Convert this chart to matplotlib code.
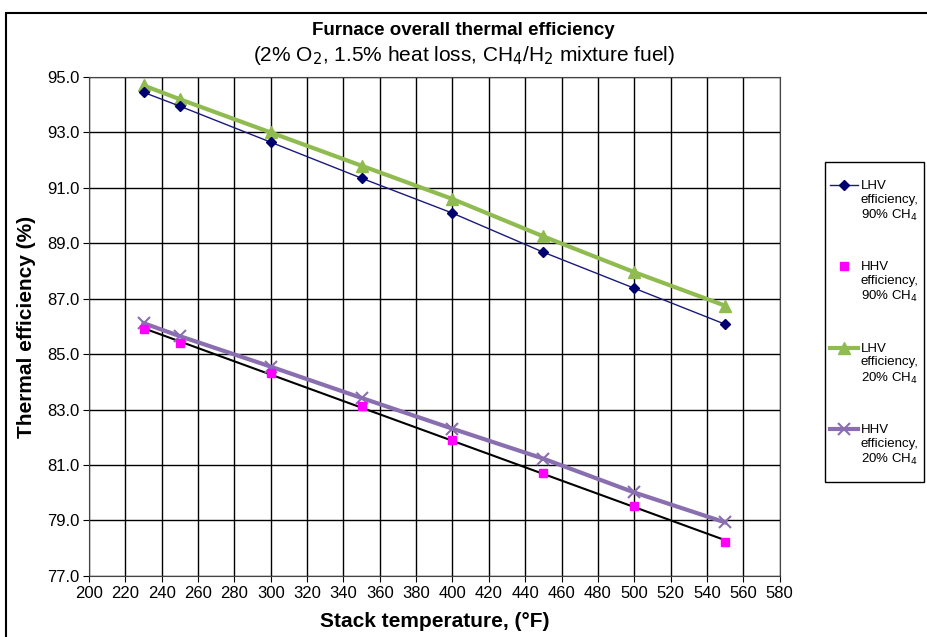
import numpy as np
import matplotlib
matplotlib.use("Agg")
import matplotlib.pyplot as plt
from matplotlib.patches import Rectangle
from matplotlib.legend_handler import HandlerLine2D

plt.rcParams['font.family'] = ['Liberation Sans', 'DejaVu Sans']

# stack temperature, deg F
temps = [230, 250, 300, 350, 400, 450, 500, 550]

# thermal efficiency, %
lhv_90 = [94.45, 93.95, 92.65, 91.35, 90.09, 88.68, 87.38, 86.08]
hhv_90 = [85.9, 85.4, 84.31, 83.12, 81.9, 80.7, 79.51, 78.21]
lhv_20 = [94.7, 94.2, 93.0, 91.8, 90.6, 89.25, 87.96, 86.75]
hhv_20 = [86.12, 85.65, 84.55, 83.42, 82.31, 81.23, 80.01, 78.93]

labels = ["LHV\nefficiency,\n90% CH$_4$", "HHV\nefficiency,\n90% CH$_4$",
          "LHV\nefficiency,\n20% CH$_4$", "HHV\nefficiency,\n20% CH$_4$"]


class TopLineHandler(HandlerLine2D):
    # put the legend handle next to the first text line, not the middle one
    def create_artists(self, legend, orig_handle, xdescent, ydescent,
                       width, height, fontsize, trans):
        shift = 1.25 * fontsize
        return super().create_artists(legend, orig_handle, xdescent,
                                      ydescent - 2 * shift, width, height,
                                      fontsize, trans)


fig = plt.figure(figsize=(9.27, 6.37), dpi=100)
ax = fig.add_axes([0.096, 0.096, 0.745, 0.783])

# frame around the whole picture
fig.patches.append(Rectangle((0.006, -0.01), 1.2, 0.99, transform=fig.transFigure,
                             fill=False, edgecolor='black', linewidth=1.5))
# legend box (drawn separately: tall padding on top/bottom, small at the sides)
fig.patches.append(Rectangle((0.89, 0.2433), 0.107, 0.5024, transform=fig.transFigure,
                             fill=True, facecolor='white', edgecolor='black',
                             linewidth=1))

ax.plot(temps, lhv_90, color='#1a1a7a', lw=1, marker='D', ms=5,
        mfc='#00006e', mec='#00006e', label=labels[0], zorder=4)

# linear trendline for the HHV 90% series (not in the legend)
k, b = np.polyfit(temps, hhv_90, 1)
tt = np.array([temps[0], temps[-1]])
ax.plot(tt, k * tt + b, color='black', lw=1.5, zorder=3)
ax.plot(temps, hhv_90, ls='none', marker='s', ms=6, color='#ff00ff',
        label=labels[1], zorder=5)

ax.plot(temps, lhv_20, color='#90bb50', lw=3, marker='^', ms=8,
        mfc='#90bb50', mec='#90bb50', label=labels[2], zorder=3)
ax.plot(temps, hhv_20, color='#8a6fb0', lw=3, marker='x', ms=8, mew=1.5,
        mec='#8a6fb0', label=labels[3], zorder=3)

ax.set_xlim(200, 580)
ax.set_ylim(77, 95)
ax.set_xticks(np.arange(200, 581, 20))
ax.set_yticks(np.arange(77, 95.1, 2))
ax.set_yticklabels([f"{v:.1f}" for v in np.arange(77, 95.1, 2)])
ax.grid(color='black', lw=1)
ax.set_axisbelow(True)
for s in ax.spines.values():
    s.set_color('#444444')
ax.tick_params(labelsize=12, length=4, direction='out', pad=3)

ax.set_xlabel("Stack temperature, (°F)", fontsize=15, fontweight='bold', labelpad=8)
ax.set_ylabel("Thermal efficiency (%)", fontsize=15, fontweight='bold', labelpad=8)

fig.text(0.5, 0.945, "Furnace overall thermal efficiency", ha='center',
         fontsize=13.5, fontweight='bold')
fig.text(0.5, 0.905, "(2% O$_2$, 1.5% heat loss, CH$_4$/H$_2$ mixture fuel)",
         ha='center', fontsize=15)

leg = fig.legend(loc='upper left', bbox_to_anchor=(0.891, 0.7237), fontsize=9.5,
                 labelspacing=2.9, handlelength=2.1, handletextpad=0.25,
                 borderpad=0.3, borderaxespad=0, frameon=False,
                 handler_map={plt.Line2D: TopLineHandler()})
for t in leg.get_texts():
    t.set_multialignment('left')

fig.savefig("out.png", dpi=100)
